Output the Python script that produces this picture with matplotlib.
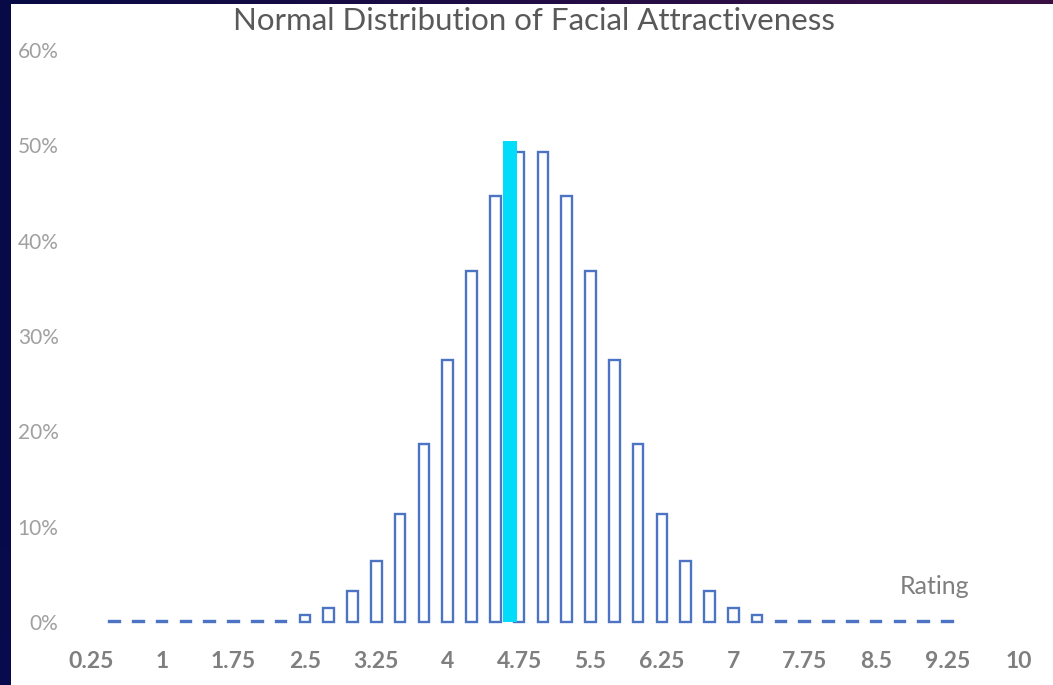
import matplotlib
matplotlib.use('Agg')
import matplotlib.pyplot as plt
import numpy as np
from matplotlib.patches import Rectangle

plt.rcParams['font.family'] = ['Lato', 'DejaVu Sans']

# ratings (bar positions) and share of faces for each rating
ratings = [0.5, 0.75, 1.0, 1.25, 1.5, 1.75, 2.0, 2.25, 2.5, 2.75, 3.0, 3.25,
           3.5, 3.75, 4.0, 4.25, 4.5, 4.75, 5.0, 5.25, 5.5, 5.75, 6.0, 6.25,
           6.5, 6.75, 7.0, 7.25, 7.5, 7.75, 8.0, 8.25, 8.5, 8.75, 9.0, 9.25]
shares = [0.1, 0.1, 0.1, 0.1, 0.1, 0.1, 0.1, 0.1, 0.7, 1.5, 3.2, 6.4,
          11.3, 18.7, 27.5, 36.8, 44.7, 49.3, 49.3, 44.7, 36.8, 27.5, 18.7, 11.3,
          6.4, 3.2, 1.5, 0.7, 0.1, 0.1, 0.1, 0.1, 0.1, 0.1, 0.1, 0.1]
x_ticks = [0.25, 1, 1.75, 2.5, 3.25, 4, 4.75, 5.5, 6.25, 7, 7.75, 8.5, 9.25, 10]
x_labels = ['0.25', '1', '1.75', '2.5', '3.25', '4', '4.75', '5.5', '6.25',
            '7', '7.75', '8.5', '9.25', '10']
y_ticks = [0, 10, 20, 30, 40, 50, 60]
marker_rating = 4.655   # highlighted rating (cyan band)
marker_height = 50.5

W, H = 1053, 685
fig = plt.figure(figsize=(W / 100, H / 100), dpi=100)
fig.patch.set_facecolor('#0b0f30')

# dark gradient backdrop, like a slide background
bg = fig.add_axes([0, 0, 1, 1])
gx = np.linspace(0, 1, 200)
gy = np.linspace(0, 1, 200)
GX, GY = np.meshgrid(gx, gy)
r = 0.03 + 0.20 * GX * (1 - GY)
g = 0.04 + 0.02 * GX
b = 0.15 + 0.20 * (1 - GY) * 0.6 + 0.15 * GY
bg.imshow(np.dstack([r, g, np.clip(b, 0, 1)]), aspect='auto', extent=[0, 1, 0, 1])
bg.axis('off')

# white chart area
fig.patches.append(Rectangle((11 / W, 0), 1 - 11 / W, 1 - 4 / H, transform=fig.transFigure,
                             facecolor='white', edgecolor='none', zorder=0.5))
bg.set_zorder(0)

ax = fig.add_axes([66.9 / W, (H - 631.5) / H, (1047.5 - 66.9) / W, (631.5 - 31) / H])
ax.set_zorder(2)
ax.patch.set_alpha(0)

ax.bar(ratings, shares, width=0.11, facecolor='white', edgecolor='#4d74c2', linewidth=1.7)
ax.bar([marker_rating], [marker_height], width=0.145, color='#00dcfa', linewidth=0, zorder=3)

ax.set_xlim(0, 10.3)
ax.set_ylim(-1, 62)
ax.set_xticks(x_ticks)
ax.set_xticklabels(x_labels, fontsize=16.5, fontweight='bold', color='#7f7f7f')
ax.set_yticks(y_ticks)
ax.set_yticklabels([f'{v}%' for v in y_ticks], fontsize=15, color='#a0a0a0')
ax.tick_params(axis='both', length=0)
ax.tick_params(axis='x', pad=14)
ax.tick_params(axis='y', pad=6)
for s in ax.spines.values():
    s.set_visible(False)

fig.text(534 / W, 1 - 21 / H, 'Normal Distribution of Facial Attractiveness', ha='center', va='center',
         fontsize=22.5, color='#595959')
ax.text(9.11, 2.9, 'Rating', ha='center', va='baseline', fontsize=18, color='#7f7f7f')

fig.savefig('out.png', dpi=100, facecolor=fig.get_facecolor())
